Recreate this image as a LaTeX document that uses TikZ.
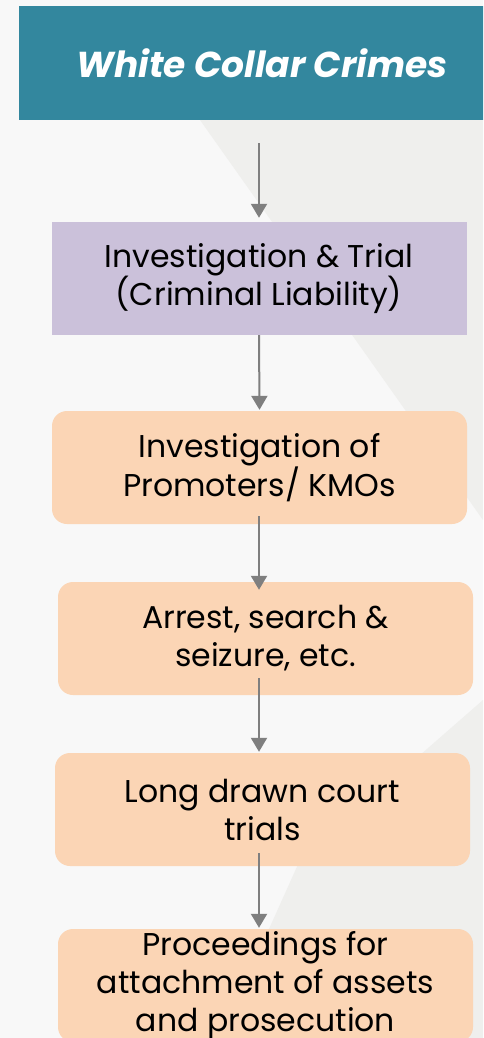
\documentclass[tikz,border=0pt]{standalone}
\usepackage{fontspec}
\setmainfont{Poppins}
\usepackage{tikz}
\usetikzlibrary{calc}
\usetikzlibrary{arrows.meta}

\definecolor{teal}{HTML}{33879E}
\definecolor{lavender}{HTML}{CBC1DA}
\definecolor{peach}{HTML}{FBD5B5}
\definecolor{bggray}{HTML}{F8F8F8}
\definecolor{bgshade}{HTML}{EFEFED}
\definecolor{arrowgray}{HTML}{7F7F7F}

\begin{document}
\begin{tikzpicture}[x=1pt,y=1pt,
    title/.style={fill=teal, text=white, minimum width=486pt, minimum height=114pt,
        font=\fontsize{36}{42}\selectfont\bfseries\itshape, inner sep=0pt},
    stage/.style={fill=#1, minimum width=415pt, minimum height=113pt, align=center,
        font=\fontsize{31.5}{38}\selectfont, inner sep=0pt},
    flow/.style={draw=arrowgray, line width=2pt, -{Triangle[length=14pt,width=16pt]}}]
    \useasboundingbox (0,0) rectangle (483,-1038);
    \clip (0,0) rectangle (483,-1038);
    % background
    \fill[bggray] (0,0) rectangle (483,-1038);
    \fill[bgshade] (200,-120) -- (483,-120) -- (483,-520) -- cycle;
    \fill[bgshade] (300,-860) -- (483,-700) -- (483,-1038) -- (220,-1038) -- cycle;
    % boxes
    \node[title] (wcc) at (262,-63) {White Collar Crimes};
    \node[stage=lavender] (trial) at (259,-278.5) {Investigation \& Trial\\(Criminal Liability)};
    \node[stage=peach, rounded corners=15pt] (promo) at (259.5,-467.5) {Investigation of\\Promoters/ KMOs};
    \node[stage=peach, rounded corners=15pt] (arrest) at (265.5,-638.5) {Arrest, search \&\\seizure, etc.};
    \node[stage=peach, rounded corners=15pt] (court) at (262.5,-809.5) {Long drawn court\\trials};
    \node[stage=peach, rounded corners=15pt] (attach) at (265.5,-985.5) {Proceedings for\\attachment of assets\\and prosecution};
    % arrows
    \draw[flow] ($(wcc.south -| trial.north)+(0,-23)$) -- ($(trial.north)+(0,4)$);
    \draw[flow] (trial.south) -- ($(promo.north)+(0,1)$);
    \draw[flow] ($(promo.south -| trial.north)+(0,8)$) -- ($(arrest.north -| trial.north)+(0,-8)$);
    \draw[flow] ($(arrest.south -| trial.north)+(0,17)$) -- ($(court.north -| trial.north)+(0,1)$);
    \draw[flow] ($(court.south -| trial.north)+(0,13)$) -- ($(attach.north -| trial.north)+(0,1)$);
\end{tikzpicture}
\end{document}
